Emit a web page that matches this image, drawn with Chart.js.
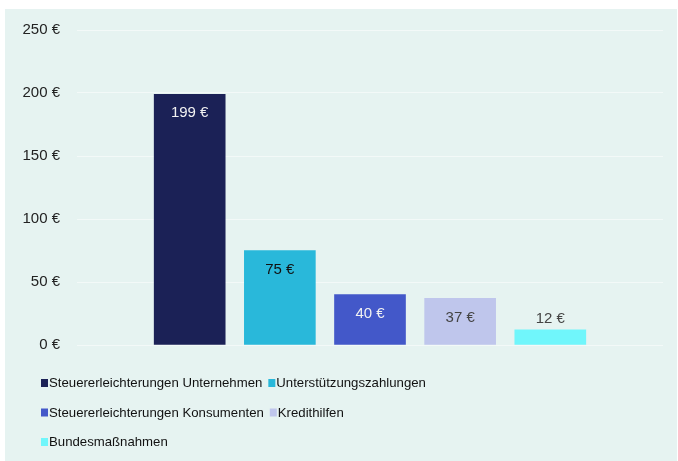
<!DOCTYPE html>
<html>
<head>
<meta charset="utf-8">
<script src="https://cdn.jsdelivr.net/npm/chart.js@4.4.0/dist/chart.umd.min.js"></script>
<style>
  html, body { margin: 0; padding: 0; background: #ffffff; }
  #wrap { width: 678px; height: 461px; }
</style>
</head>
<body>
<div id="wrap"><canvas id="myChart" width="678" height="461"></canvas></div>
<script>
// categories and values (Mrd. €)
var categories = ['Steuererleichterungen Unternehmen', 'Unterstützungszahlungen', 'Steuererleichterungen Konsumenten', 'Kredithilfen', 'Bundesmaßnahmen'];
var values = [199, 75, 40, 37, 12];
var yTicks = [0, 50, 100, 150, 200, 250];

var barColors = ['#1b2156', '#29b8da', '#4358c9', '#bfc6ec', '#70f6fb'];
var labelColors = ['#f2f2f2', '#111111', '#f2f2f2', '#444444', '#444444'];
var FONT = '"Liberation Sans", Arial, sans-serif';

// panel background
var panelBg = {
  id: 'panelBg',
  beforeDraw: function(chart){
    var ctx = chart.ctx;
    ctx.save();
    ctx.fillStyle = '#ffffff';
    ctx.fillRect(0, 0, chart.width, chart.height);
    ctx.fillStyle = '#e6f3f1';
    ctx.fillRect(5, 9, chart.width - 6, chart.height - 9);
    ctx.restore();
  }
};

// value labels inside the bars (above when bar is too short)
var valueLabels = {
  id: 'valueLabels',
  afterDatasetsDraw: function(chart){
    var ctx = chart.ctx;
    var meta = chart.getDatasetMeta(0);
    ctx.save();
    ctx.font = '15px ' + FONT;
    ctx.textAlign = 'center';
    ctx.textBaseline = 'middle';
    meta.data.forEach(function(bar, i){
      var h = bar.base - bar.y;
      var y = h > 30 ? bar.y + 19 : bar.y - 11;
      ctx.fillStyle = labelColors[i];
      ctx.fillText(values[i] + ' €', bar.x, y);
    });
    ctx.restore();
  }
};

// left aligned legend, wrapped like the original
var wrapLegend = {
  id: 'wrapLegend',
  afterDraw: function(chart){
    var ctx = chart.ctx;
    ctx.save();
    ctx.font = '13.2px ' + FONT;
    ctx.textBaseline = 'middle';
    var startX = 41, limitX = 460, x = startX, y = 383, rowH = 29.5;
    categories.forEach(function(name, i){
      var w = 8 + ctx.measureText(name).width;
      if (x > startX && x + w > limitX) { x = startX; y += rowH; }
      ctx.fillStyle = barColors[i];
      ctx.fillRect(x, y - 4, 7, 8);
      ctx.fillStyle = '#111111';
      ctx.textAlign = 'left';
      ctx.fillText(name, x + 8, y + 0.5);
      x += w + 6;
    });
    ctx.restore();
  }
};

var data = {
  datasets: [{
    label: 'Maßnahmen',
    data: values.map(function(v, i){ return {x: i + 1, y: v}; }),
    backgroundColor: barColors,
    borderWidth: 0,
    barThickness: 71
  }]
};

var config = {
  type: 'bar',
  data: data,
  options: {
    responsive: false,
    animation: false,
    layout: { padding: { top: 30, right: 15, bottom: 116, left: 0 } },
    plugins: {
      legend: { display: false },
      tooltip: { enabled: false },
      title: { display: false }
    },
    scales: {
      x: {
        type: 'linear',
        offset: false,
        min: -0.25,
        max: 6.25,
        display: false
      },
      y: {
        min: 0,
        max: 250,
        afterFit: function(scale){ scale.width = 77; },
        afterBuildTicks: function(scale){
          scale.ticks = yTicks.map(function(v){ return {value: v}; });
        },
        border: { display: false },
        grid: { color: 'rgba(255,255,255,0.5)', lineWidth: 1, drawTicks: false },
        ticks: {
          padding: 17,
          color: '#222222',
          font: { family: FONT, size: 15 },
          callback: function(v){ return v + ' €'; }
        }
      }
    }
  },
  plugins: [panelBg, valueLabels, wrapLegend]
};

var myChart = new Chart(document.getElementById('myChart'), config);
</script>
</body>
</html>
